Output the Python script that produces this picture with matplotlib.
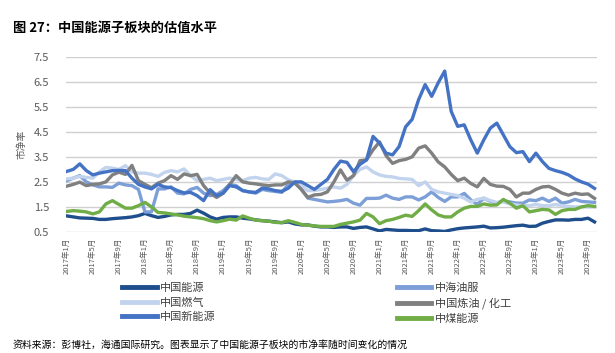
import matplotlib
matplotlib.use("Agg")
import matplotlib.pyplot as plt
import numpy as np

plt.rcParams['font.family'] = ['Noto Sans CJK SC', 'DejaVu Sans']

# Monthly data, 2017-01 .. 2023-10
months = [f"{2017 + k // 12}年{k % 12 + 1}月" for k in range(82)]

china_energy = [1.14, 1.10, 1.06, 1.05, 1.04, 1.00, 1.00, 1.03, 1.05, 1.07,
                1.10, 1.15, 1.24, 1.15, 1.08, 1.12, 1.18, 1.20, 1.20, 1.24,
                1.37, 1.25, 1.10, 1.01, 1.08, 1.10, 1.10, 1.05, 1.02, 0.98,
                0.95, 0.93, 0.90, 0.87, 0.90, 0.82, 0.78, 0.78, 0.73, 0.70,
                0.70, 0.68, 0.70, 0.70, 0.64, 0.68, 0.70, 0.62, 0.54, 0.60,
                0.58, 0.56, 0.56, 0.55, 0.55, 0.62, 0.55, 0.54, 0.52, 0.58,
                0.63, 0.66, 0.68, 0.70, 0.73, 0.66, 0.67, 0.69, 0.72, 0.75,
                0.77, 0.72, 0.73, 0.85, 0.92, 0.98, 0.98, 0.97, 1.00, 1.00,
                1.05, 0.90]

oilfield_services = [2.55, 2.65, 2.75, 2.50, 2.38, 2.30, 2.30, 2.28, 2.45, 2.38,
                     2.35, 2.20, 1.30, 1.30, 2.22, 2.22, 2.30, 2.05, 2.02, 2.20,
                     2.28, 2.05, 1.95, 2.00, 2.15, 2.40, 2.35, 2.15, 2.10, 2.05,
                     2.20, 2.15, 2.12, 2.08, 2.40, 2.50, 2.20, 1.85, 1.80, 1.75,
                     1.70, 1.72, 1.75, 1.80, 1.65, 1.57, 1.84, 1.84, 1.85, 1.97,
                     1.85, 1.80, 1.90, 1.90, 1.78, 1.90, 2.10, 1.88, 1.72, 1.90,
                     1.90, 2.04, 1.78, 1.60, 1.85, 1.72, 1.65, 1.75, 1.70, 1.65,
                     1.65, 1.78, 1.75, 1.85, 1.72, 1.85, 1.65, 1.70, 1.80, 1.72,
                     1.70, 1.68]

china_gas = [2.62, 2.65, 2.72, 2.68, 2.65, 2.90, 3.08, 3.05, 3.00, 3.15,
             2.90, 2.85, 2.85, 2.80, 2.72, 2.88, 2.95, 2.90, 3.02, 2.75,
             2.55, 2.60, 2.65, 2.55, 2.60, 2.65, 2.60, 2.55, 2.65, 2.68,
             2.62, 2.60, 2.82, 2.75, 2.58, 2.50, 2.35, 2.15, 2.15, 2.20,
             2.25, 2.30, 2.25, 2.40, 2.75, 3.00, 3.10, 2.90, 2.78, 2.72,
             2.70, 2.64, 2.62, 2.60, 2.35, 2.50, 2.20, 2.10, 2.05, 2.00,
             1.95, 1.85, 1.70, 1.80, 1.85, 1.75, 1.68, 1.70, 1.62, 1.58,
             1.55, 1.55, 1.60, 1.55, 1.55, 1.60, 1.55, 1.52, 1.50, 1.50,
             1.50, 1.50]

refining_chem = [2.33, 2.40, 2.49, 2.35, 2.40, 2.42, 2.50, 2.78, 2.89, 2.80,
                 3.16, 2.55, 2.40, 2.27, 2.45, 2.55, 2.75, 2.60, 2.82, 2.75,
                 2.80, 2.35, 2.05, 1.88, 2.05, 2.40, 2.75, 2.50, 2.45, 2.42,
                 2.38, 2.35, 2.38, 2.38, 2.50, 2.45, 2.20, 1.88, 1.98, 2.00,
                 2.10, 2.50, 2.98, 2.57, 2.75, 3.35, 3.38, 3.78, 4.10, 3.55,
                 3.24, 3.35, 3.40, 3.50, 3.85, 3.94, 3.65, 3.30, 3.10, 2.80,
                 2.55, 2.65, 2.44, 2.30, 2.64, 2.40, 2.33, 2.32, 2.20, 1.90,
                 2.05, 2.05, 2.20, 2.30, 2.32, 2.20, 2.05, 1.97, 2.05, 2.00,
                 2.02, 1.84]

new_energy = [2.92, 3.00, 3.22, 2.95, 2.78, 2.85, 2.90, 2.95, 2.96, 2.95,
              2.65, 2.40, 2.30, 2.22, 2.40, 2.30, 2.27, 2.15, 2.06, 2.08,
              1.95, 1.75, 2.19, 1.95, 2.05, 2.35, 2.30, 2.15, 2.10, 2.08,
              2.25, 2.22, 2.15, 2.12, 2.25, 2.50, 2.50, 2.35, 2.20, 2.40,
              2.60, 3.00, 3.33, 3.28, 2.91, 3.20, 3.38, 4.32, 4.05, 3.65,
              3.58, 3.91, 4.70, 5.00, 5.79, 6.39, 5.92, 6.46, 6.93, 5.32,
              4.72, 4.78, 4.18, 3.65, 4.18, 4.65, 4.85, 4.38, 3.91, 3.67,
              3.71, 3.31, 3.65, 3.31, 3.04, 2.95, 2.88, 2.78, 2.62, 2.50,
              2.41, 2.24]

coal_energy = [1.32, 1.35, 1.33, 1.30, 1.22, 1.30, 1.62, 1.75, 1.60, 1.45,
               1.45, 1.55, 1.68, 1.50, 1.28, 1.26, 1.22, 1.18, 1.13, 1.10,
               1.07, 1.03, 0.95, 0.90, 0.95, 1.01, 0.97, 1.14, 1.05, 0.97,
               0.95, 0.93, 0.88, 0.87, 0.95, 0.88, 0.80, 0.77, 0.74, 0.72,
               0.72, 0.72, 0.80, 0.85, 0.90, 0.97, 1.24, 1.10, 0.83, 0.95,
               1.00, 1.08, 1.17, 1.12, 1.35, 1.62, 1.38, 1.18, 1.10, 1.10,
               1.30, 1.45, 1.52, 1.52, 1.62, 1.57, 1.58, 1.80, 1.65, 1.45,
               1.55, 1.30, 1.35, 1.40, 1.38, 1.20, 1.35, 1.40, 1.40, 1.50,
               1.55, 1.52]

series = [
    ("中国能源", china_energy, "#1F4E8C"),
    ("中海油服", oilfield_services, "#7C9FD8"),
    ("中国燃气", china_gas, "#C2D3EE"),
    ("中国炼油 / 化工", refining_chem, "#808080"),
    ("中国新能源", new_energy, "#4472C4"),
    ("中煤能源", coal_energy, "#70AD47"),
]

yticks = [0.5, 1.5, 2.5, 3.5, 4.5, 5.5, 6.5, 7.5]

fig = plt.figure(figsize=(6.15, 3.53), dpi=100)
ax = fig.add_axes([0.107, 0.343, 0.864, 0.496])

x = np.arange(len(months))
handles = {}
for name, vals, col in series:
    (h,) = ax.plot(x, vals, color=col, lw=2.4, solid_joinstyle='round', label=name)
    handles[name] = h

ax.set_xlim(-0.15, 81.4)
ax.set_ylim(0.5, 7.5)
ax.set_yticks(yticks)
ax.set_yticklabels([f"{v:.1f}" for v in yticks], fontsize=8, color="#595959")
ax.yaxis.grid(True, color="#D0D0D0", lw=1.0)
ax.set_axisbelow(True)
for s in ax.spines.values():
    s.set_visible(False)
ax.tick_params(axis='y', length=0, pad=12)
ax.tick_params(axis='x', length=0, pad=4)

tick_pos = list(range(0, 81, 4))
ax.set_xticks(tick_pos)
ax.set_xticklabels([months[i] for i in tick_pos], rotation=90, fontsize=5.5, color="#595959")

ax.set_ylabel("市净率", fontsize=7, color="#595959", labelpad=5)

order = ["中国能源", "中国燃气", "中国新能源", "中海油服", "中国炼油 / 化工", "中煤能源"]
leg = fig.legend([handles[n] for n in order], order, loc='upper left',
                 bbox_to_anchor=(0.19, 0.215), ncol=2, frameon=False,
                 fontsize=8, handlelength=3.1, handletextpad=0.3,
                 columnspacing=16.3, labelspacing=0.38, borderpad=0)
for line in leg.get_lines():
    line.set_linewidth(3.5)
for t in leg.get_texts():
    t.set_color("#404040")

fig.text(0.021, 0.92, "图 27：中国能源子板块的估值水平", fontsize=9.5, fontweight='bold', color="#000000", va='center')
fig.text(0.021, 0.022, "资料来源：彭博社，海通国际研究。图表显示了中国能源子板块的市净率随时间变化的情况",
         fontsize=7.1, color="#000000", va='center')

fig.savefig("out.png", dpi=100)
